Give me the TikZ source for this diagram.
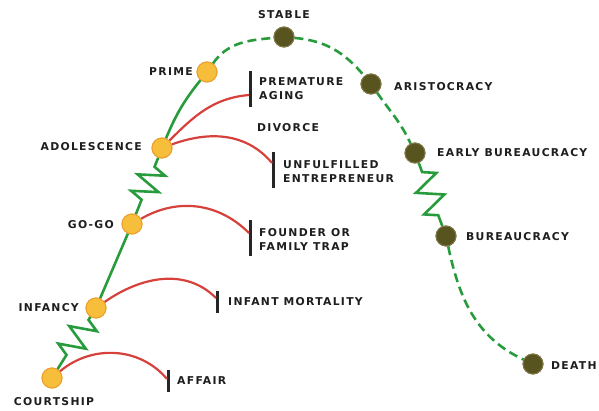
\documentclass[tikz,border=0pt]{standalone}
\usepackage{fontspec}
\newfontfamily\lbl[LetterSpace=12]{DejaVu Sans}
\usetikzlibrary{calc}
\definecolor{grn}{RGB}{40,155,60}
\definecolor{rd}{RGB}{215,65,60}
\definecolor{yfill}{RGB}{247,190,60}
\definecolor{ydraw}{RGB}{235,160,45}
\definecolor{dfill}{RGB}{88,84,32}
\definecolor{ddraw}{RGB}{125,118,70}
\definecolor{txt}{RGB}{30,30,30}
\tikzset{
  young/.style={circle,minimum size=20pt,inner sep=0pt,fill=yfill,draw=ydraw,line width=1pt},
  old/.style={circle,minimum size=20pt,inner sep=0pt,fill=dfill,draw=ddraw,line width=1pt},
  lab/.style={font=\lbl\bfseries\fontsize{10.8}{14}\selectfont,text=txt,inner sep=0pt,align=left},
  gline/.style={draw=grn,line width=2.6pt},
  gdash/.style={gline,dash pattern=on 9pt off 5pt},
  rline/.style={draw=rd,line width=2.2pt},
  barnode/.style={rectangle,fill=black!85,inner sep=0pt,minimum width=3pt,minimum height=#1}
}
% zigzag connector: #1,#2 nodes; #3 start fraction; #4 step; #5 amplitude
\newcommand\zigconn[5]{%
  \pgfmathsetmacro\za{#3}\pgfmathsetmacro\zb{#3+#4}\pgfmathsetmacro\zc{#3+3*#4}%
  \pgfmathsetmacro\zd{#3+5*#4}\pgfmathsetmacro\ze{#3+7*#4}\pgfmathsetmacro\zf{#3+8*#4}%
  \draw[gline,line join=miter] (#1) -- ($(#1)!\za!(#2)$)
    -- ($(#1)!\zb!(#2)!#5!90:(#2)$) -- ($(#1)!\zc!(#2)!#5!-90:(#2)$)
    -- ($(#1)!\zd!(#2)!#5!90:(#2)$) -- ($(#1)!\ze!(#2)!#5!-90:(#2)$)
    -- ($(#1)!\zf!(#2)$) -- (#2);}
\begin{document}
\begin{tikzpicture}[x=1pt,y=1pt]
\useasboundingbox (0,0) rectangle (599,410);
% stage nodes
\node[young] (court) at (52,32) {};
\node[young] (inf) at (96,102) {};
\node[young] (gogo) at (132,186) {};
\node[young] (adol) at (162,262) {};
\node[young] (prime) at (207,338) {};
\node[old] (stable) at (284,373) {};
\node[old] (arist) at (371,326) {};
\node[old] (eb) at (415,257) {};
\node[old] (bur) at (446,174) {};
\node[old] (death) at (533,46) {};
% bars
\node[barnode=22pt] (affbar) at (168,29) {};
\node[barnode=22pt] (imbar) at (217,108) {};
\node[barnode=36pt] (fbar) at (250,172) {};
\node[barnode=36pt] (pbar) at (250,321) {};
\node[barnode=36pt] (ubar) at (273,240) {};
\coordinate (affend) at (167,31);
\coordinate (imend) at (216,112);
\coordinate (fend) at (249,177);
\coordinate (pend) at (249,315);
\coordinate (uend) at (272,247);
% green path
\zigconn{court}{inf}{0.33}{0.0625}{13pt}
\draw[gline] (inf) -- (gogo);
\zigconn{gogo}{adol}{0.32}{0.054}{13pt}
\draw[gline] (adol) to[bend left=8] (prime);
\draw[gdash] (prime) to[out=55,in=185] (stable);
\draw[gdash] (stable) to[out=-5,in=130] (arist);
\draw[gdash] (arist) to[out=-55,in=115] (eb);
\zigconn{eb}{bur}{0.23}{0.065}{13pt}
\draw[gdash] (bur) to[out=-78,in=155] (death);
% red curves
\draw[rline] (court) to[out=40,in=130] (affend);
\draw[rline] (inf) to[out=35,in=135] (imend);
\draw[rline] (gogo) to[out=30,in=135] (fend);
\draw[rline] (adol) to[out=45,in=185] (pend);
\draw[rline] (adol) to[out=20,in=130] (uend);
% redraw nodes on top
\foreach \n in {court,inf,gogo,adol,prime}{\node[young] at (\n) {};}
\foreach \n in {stable,arist,eb,bur,death}{\node[old] at (\n) {};}
% labels
\node[lab] (lcourt) at (54,8) {COURTSHIP};
\node[lab,anchor=east] (linf) at (79,102) {INFANCY};
\node[lab,anchor=east] (lgogo) at (114,185) {GO-GO};
\node[lab,anchor=east] (ladol) at (142,263) {ADOLESCENCE};
\node[lab,anchor=east] (lprime) at (193,338) {PRIME};
\node[lab] (lstable) at (284,395) {STABLE};
\node[lab,anchor=west] (larist) at (394,323) {ARISTOCRACY};
\node[lab,anchor=west] (leb) at (437,257) {EARLY BUREAUCRACY};
\node[lab,anchor=west] (lbur) at (466,173) {BUREAUCRACY};
\node[lab,anchor=west] (ldeath) at (551,44) {DEATH};
\node[lab,anchor=west] (laff) at (177,29) {AFFAIR};
\node[lab,anchor=west] (lim) at (228,108) {INFANT MORTALITY};
\node[lab,anchor=west] (lf) at (259,171) {FOUNDER OR\\FAMILY TRAP};
\node[lab,anchor=west] (lp) at (259,321) {PREMATURE\\AGING};
\node[lab,anchor=west] (ldiv) at (257,282) {DIVORCE};
\node[lab,anchor=west] (lu) at (283,238) {UNFULFILLED\\ENTREPRENEUR};
\end{tikzpicture}
\end{document}
